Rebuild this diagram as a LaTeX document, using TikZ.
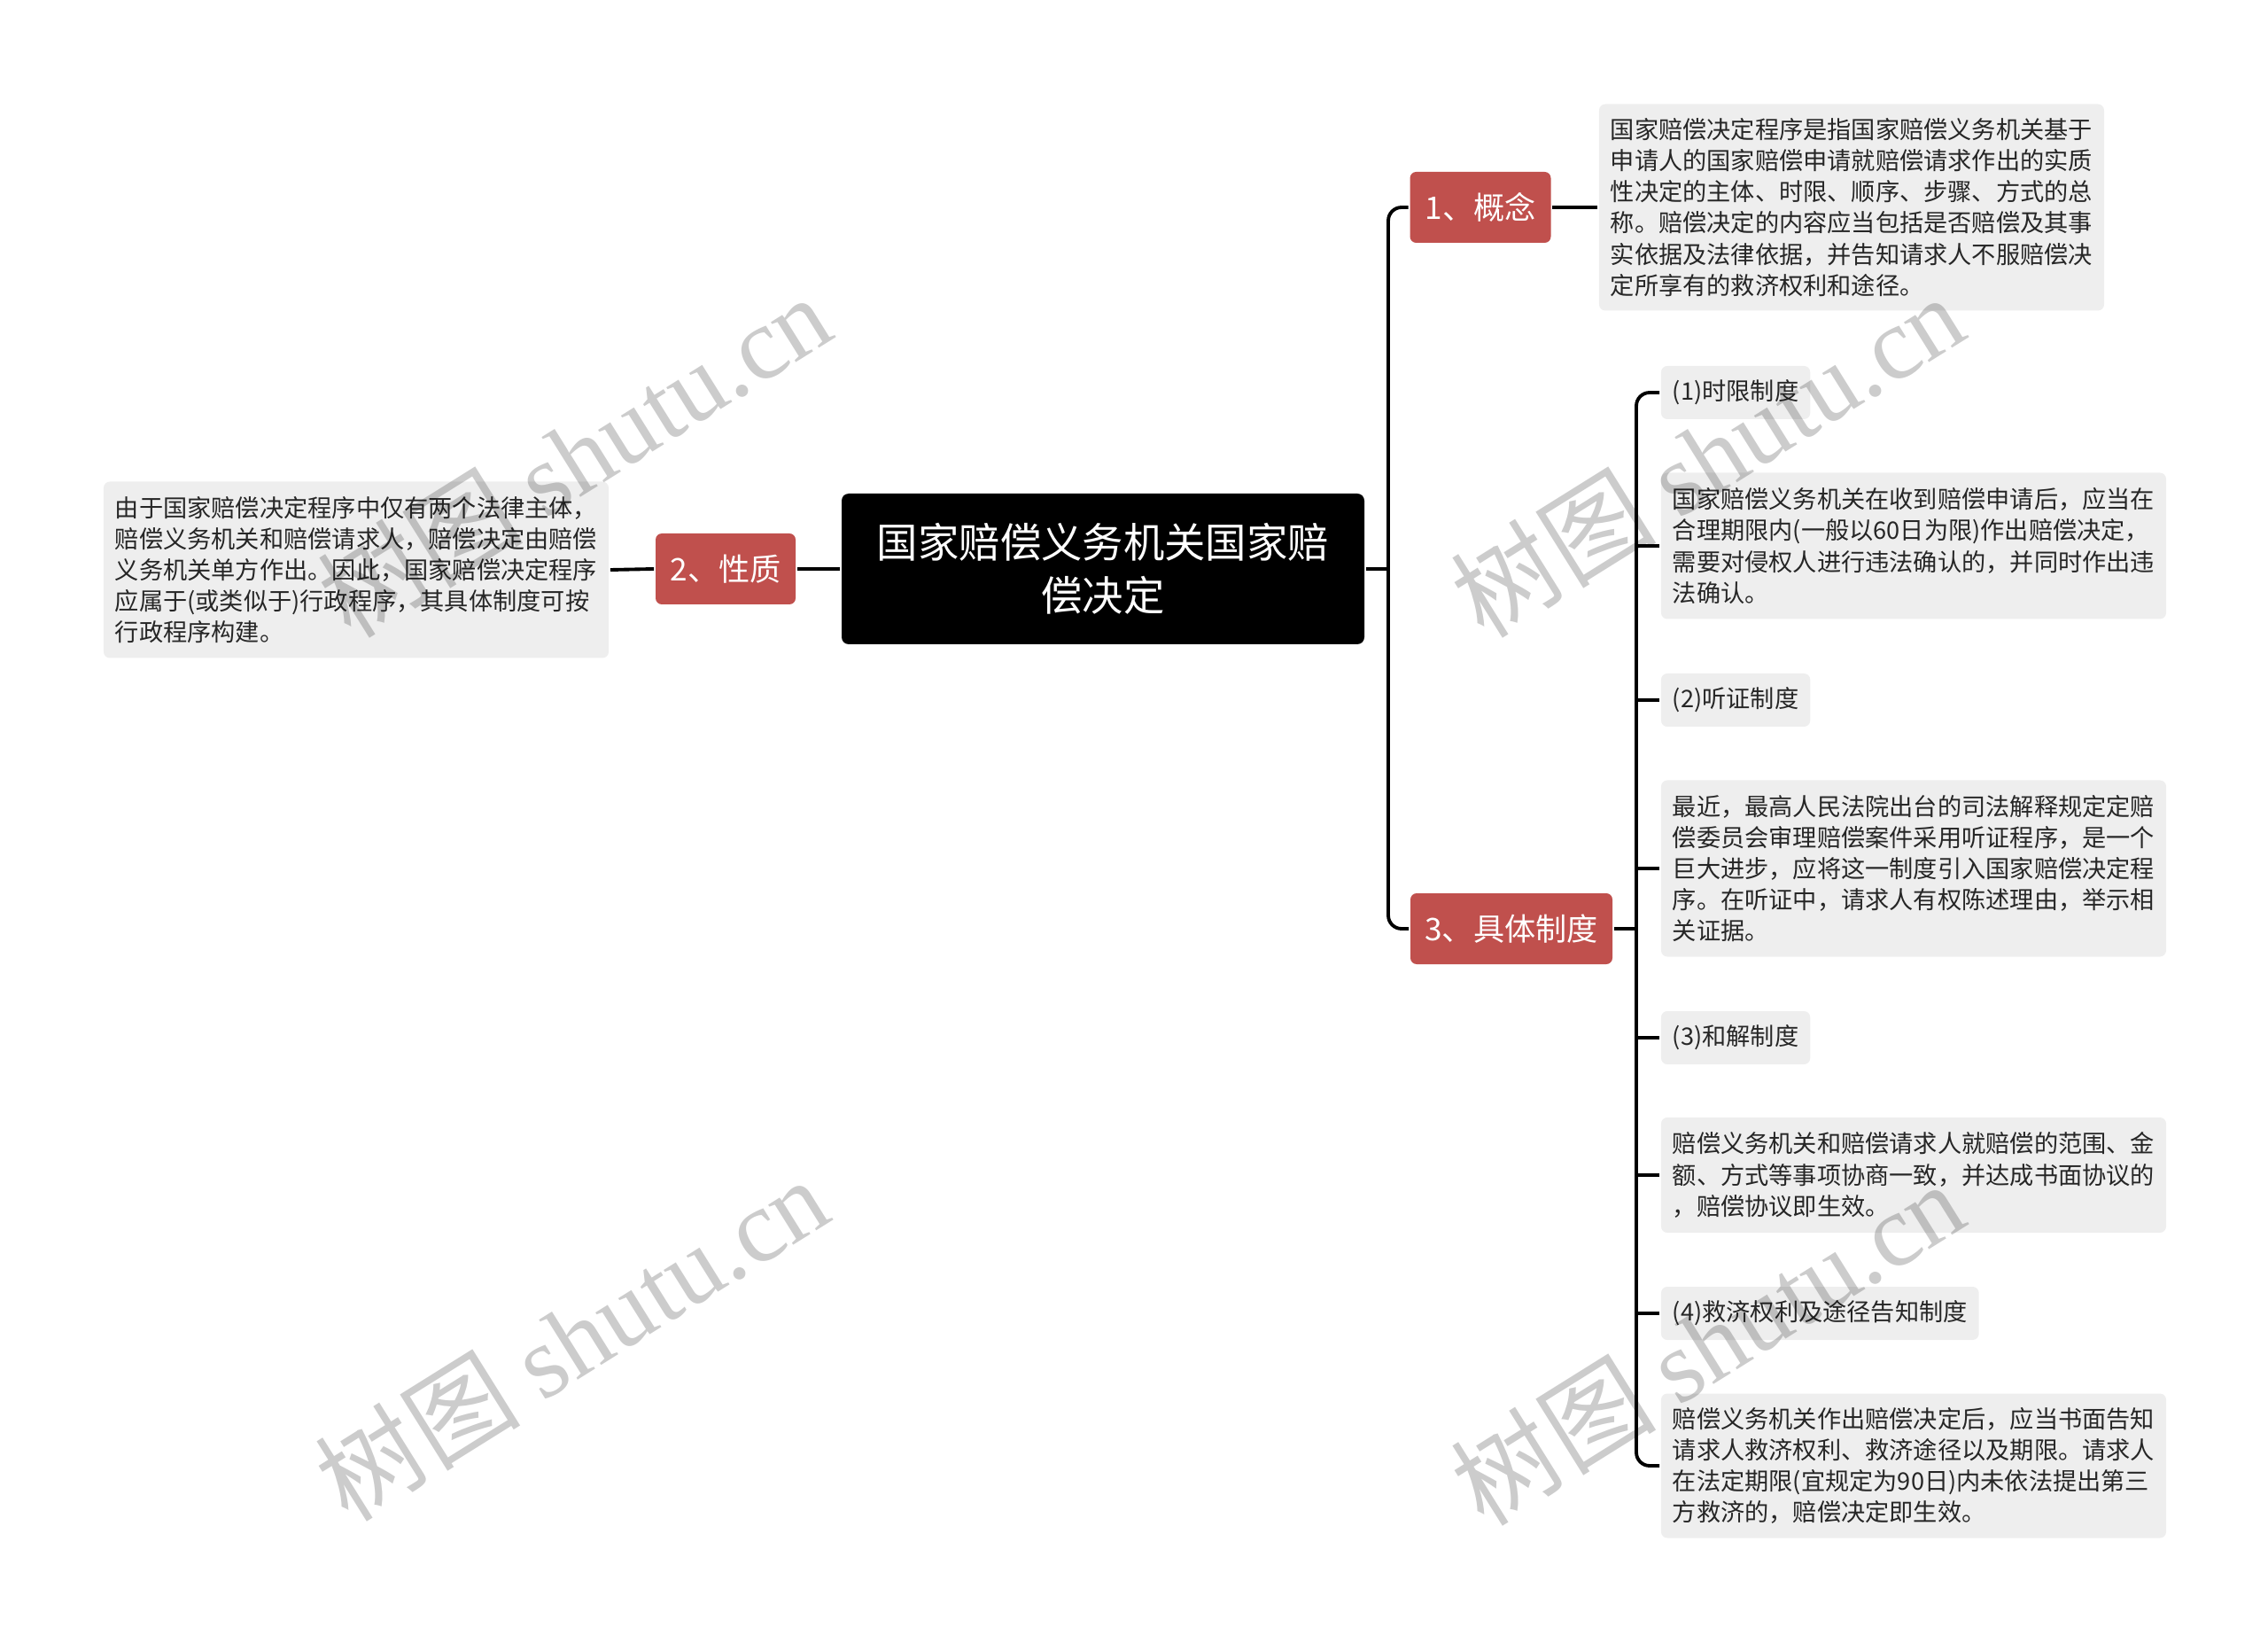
\documentclass[tikz,border=0pt]{standalone}
\usepackage{fontspec}
\setmainfont{Noto Sans CJK SC}
\newfontfamily\stamplatin{Liberation Serif}
\usetikzlibrary{calc}
\definecolor{topicred}{RGB}{192,80,77}
\definecolor{notegray}{RGB}{238,238,238}
\definecolor{inkgray}{RGB}{38,38,38}

\begin{document}
\begin{tikzpicture}[y=-1cm, line width=1.1pt,
    root/.style={fill=black, text=white, rounded corners=0.08cm, minimum width=5.9cm, minimum height=1.7cm, align=center, font=\fontsize{13.2pt}{17pt}\selectfont},
    topic/.style={fill=topicred, text=white, rounded corners=0.07cm, minimum height=0.8cm, inner sep=0pt, font=\fontsize{10pt}{12pt}\selectfont},
    note/.style={fill=notegray, text=inkgray, rounded corners=0.07cm, align=left, inner xsep=0.13cm, inner ysep=0pt, minimum width=5.7cm, font=\fontsize{7.74pt}{10pt}\selectfont},
    leaf/.style={note, minimum width=0pt, minimum height=0.6cm, anchor=west},
    stamp/.style={rotate=32, text=black, text opacity=0.2, font=\fontsize{33pt}{33pt}\selectfont}]

    \useasboundingbox (0,0) rectangle (25.6,18.54);

    \node [root] (Root) at (12.45,6.42) {国家赔偿义务机关国家赔\\偿决定};

    \node [topic, minimum width=1.58cm] (K2) at (8.19,6.42) {2、性质};
    \node [topic, minimum width=1.59cm] (K1) at (16.71,2.34) {1、概念};
    \node [topic, minimum width=2.28cm] (K3) at (17.06,10.48) {3、具体制度};

    \node [note, minimum height=1.99cm] (NL) at (4.02,6.43) {由于国家赔偿决定程序中仅有两个法律主体，\\赔偿义务机关和赔偿请求人，赔偿决定由赔偿\\义务机关单方作出。因此，国家赔偿决定程序\\应属于(或类似于)行政程序，其具体制度可按\\行政程序构建。};
    \node [note, anchor=west, minimum height=2.33cm] (N0) at (18.03,2.34) {国家赔偿决定程序是指国家赔偿义务机关基于\\申请人的国家赔偿申请就赔偿请求作出的实质\\性决定的主体、时限、顺序、步骤、方式的总\\称。赔偿决定的内容应当包括是否赔偿及其事\\实依据及法律依据，并告知请求人不服赔偿决\\定所享有的救济权利和途径。};

    \node [leaf] (L1) at (18.73,4.43) {(1)时限制度};
    \node [note, anchor=west, minimum height=1.65cm] (N1) at (18.73,6.16) {国家赔偿义务机关在收到赔偿申请后，应当在\\合理期限内(一般以60日为限)作出赔偿决定，\\需要对侵权人进行违法确认的，并同时作出违\\法确认。};
    \node [leaf] (L2) at (18.73,7.90) {(2)听证制度};
    \node [note, anchor=west, minimum height=1.99cm] (N2) at (18.73,9.80) {最近，最高人民法院出台的司法解释规定定赔\\偿委员会审理赔偿案件采用听证程序，是一个\\巨大进步，应将这一制度引入国家赔偿决定程\\序。在听证中，请求人有权陈述理由，举示相\\关证据。};
    \node [leaf] (L3) at (18.73,11.71) {(3)和解制度};
    \node [note, anchor=west, minimum height=1.30cm] (N3) at (18.73,13.26) {赔偿义务机关和赔偿请求人就赔偿的范围、金\\额、方式等事项协商一致，并达成书面协议的\\，赔偿协议即生效。};
    \node [leaf] (L4) at (18.73,14.82) {(4)救济权利及途径告知制度};
    \node [note, anchor=west, minimum height=1.63cm] (N4) at (18.73,16.54) {赔偿义务机关作出赔偿决定后，应当书面告知\\请求人救济权利、救济途径以及期限。请求人\\在法定期限(宜规定为90日)内未依法提出第三\\方救济的，赔偿决定即生效。};

    % Left side
    \draw (Root.west) -- (K2.east);
    \draw (K2.west) -- (NL.east);
    % Right trunk
    \coordinate (Trunk) at (15.67,6.42);
    \draw (Root.east) -- (Trunk);
    \draw [rounded corners=0.15cm] (K1.west) -| (Trunk) |- (K3.west);
    \draw (K1.east) -- (N0.west);
    % Sub trunk
    \coordinate (Sub) at (18.47,10.48);
    \draw (K3.east) -- (Sub);
    \draw [rounded corners=0.15cm] (L1.west) -| (Sub) |- (N4.west);
    \foreach \n in {N1,L2,N2,L3,N3,L4} {
        \draw (Sub |- \n.west) -- (\n.west);
    }

    % Watermarks
    \node [stamp] (W1) at (6.48,5.14) {树图 {\stamplatin shutu.cn}};
    \node [stamp] (W2) at (19.27,5.14) {树图 {\stamplatin shutu.cn}};
    \node [stamp] (W3) at (6.45,15.10) {树图 {\stamplatin shutu.cn}};
    \node [stamp] (W4) at (19.27,15.15) {树图 {\stamplatin shutu.cn}};

\end{tikzpicture}
\end{document}
